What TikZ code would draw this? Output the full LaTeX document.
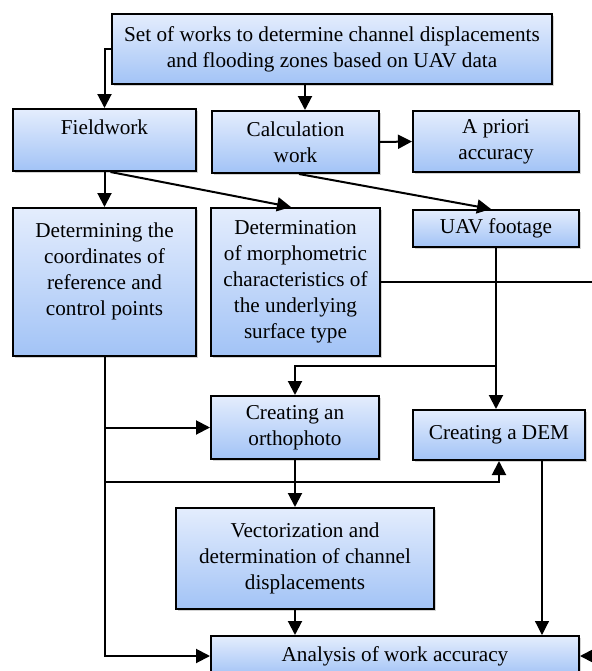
\documentclass[tikz,border=0pt]{standalone}
\usepackage{fontspec}
\setmainfont{Liberation Serif}
\usetikzlibrary{arrows.meta,shadows}
\definecolor{boxtop}{HTML}{E4EDFD}
\definecolor{boxbot}{HTML}{A2C3F6}
\begin{document}
\begin{tikzpicture}[x=0.5pt, y=-0.5pt, line width=1pt,
    >={Triangle[length=7pt, width=7pt]},
    wbox/.style={draw, rectangle, align=center, inner sep=1pt,
        top color=boxtop, bottom color=boxbot,
        drop shadow={shadow xshift=0.8pt, shadow yshift=-0.8pt, opacity=0.35},
        font=\fontsize{10.6}{13}\selectfont}]
    \useasboundingbox (0,0) rectangle (592,671);

    % Main task
    \node[wbox, minimum width=220pt, minimum height=35pt] (top) at (332,49)
        {Set of works to determine channel displacements\\and flooding zones based on UAV data};

    % Second row
    \node[wbox, minimum width=91.5pt, minimum height=31pt] (field) at (104.5,140) {Fieldwork\\\mbox{}};
    \node[wbox, minimum width=83.5pt, minimum height=31pt] (calc) at (295.5,142) {Calculation\\work};
    \node[wbox, minimum width=83pt, minimum height=30.5pt] (apriori) at (496,141.5) {A priori\\accuracy};

    % Third row
    \node[wbox, minimum width=91.5pt, minimum height=74pt] (coord) at (104.5,282)
        {Determining the\\coordinates of\\reference and\\control points\\\mbox{}};
    \node[wbox, minimum width=84.5pt, minimum height=74pt] (morph) at (295.5,282)
        {Determination\\of morphometric\\characteristics of\\the underlying\\surface type};
    \node[wbox, minimum width=83pt, minimum height=18.5pt] (uav) at (496,228.5) {UAV footage};

    % Products
    \node[wbox, minimum width=84pt, minimum height=31.5pt] (ortho) at (295,427.5) {Creating an\\orthophoto};
    \node[wbox, minimum width=86pt, minimum height=25pt] (dem) at (499,435) {Creating a DEM};
    \node[wbox, minimum width=129pt, minimum height=50.5pt] (vect) at (305,558.5)
        {Vectorization and\\determination of channel\\displacements};
    \node[wbox, minimum width=184pt, minimum height=20pt] (anal) at (395,656) {Analysis of work accuracy};

    % Helper points
    \coordinate (outA) at (592,282);
    \coordinate (outB) at (592,656);
    \coordinate (br) at (497,366);
    \coordinate (junc) at (104,482);

    % Arrows from the main task
    \draw[->] (top.west) -| (field.north);
    \draw[->] ([xshift=4.75pt]calc.north |- top.south) -- ([xshift=4.75pt]calc.north);
    \draw[->] (calc.east) -- (apriori.west);

    % Fieldwork and calculation branches
    \draw[->] (field.south) -- (coord.north);
    \draw[->] ([xshift=3pt]field.south) -- ([xshift=-2.25pt]morph.north);
    \draw[->] ([xshift=1.75pt]calc.south) -- ([xshift=-2.5pt]uav.north);

    % Morphometric line leaves the frame
    \draw (morph.east) -- (outA);
    \draw[->] (outB) -- (anal.east);

    % UAV footage to DEM and orthophoto
    \draw[->] (uav.south) -- (uav.south |- dem.north);
    \draw[->] (br) -| (ortho.north);

    % Control points feed the products
    \draw[->] (coord.south) |- (anal.west);
    \draw[->] (coord.south |- ortho.west) -- (ortho.west);
    \draw[->] (junc) -| (dem.south);

    % Orthophoto to vectorization to analysis
    \draw[->] (ortho.south) -- (ortho.south |- vect.north);
    \draw[->] (ortho.south |- vect.south) -- (ortho.south |- anal.north);
    \draw[->, line width=0.6pt] ([xshift=21.5pt]dem.south) -- ([xshift=21.5pt]dem.south |- anal.north);
\end{tikzpicture}
\end{document}
